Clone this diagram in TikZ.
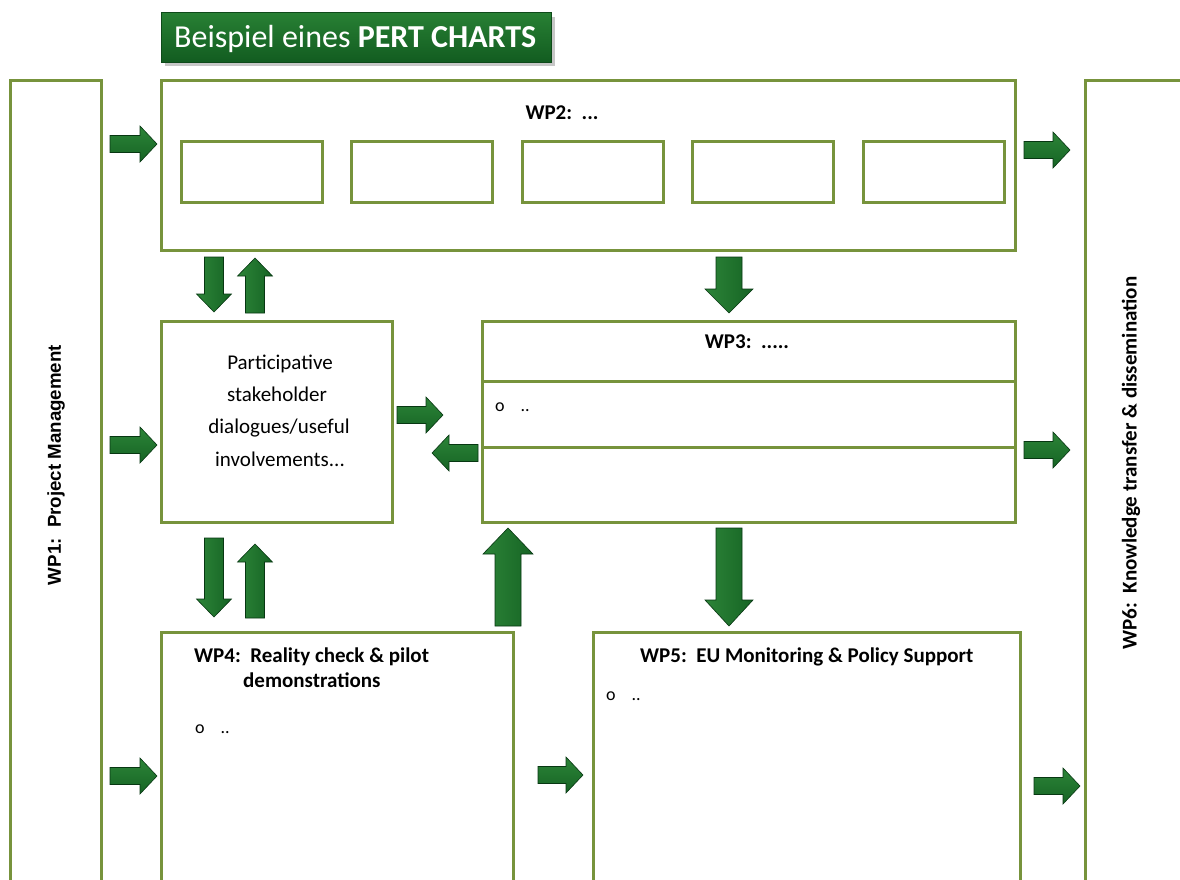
\documentclass[tikz,border=0pt]{standalone}
\usepackage{fontspec}
\setmainfont{Carlito}
\newfontfamily\arialf{Liberation Sans}
\definecolor{boxgreen}{RGB}{119,147,60}
\definecolor{arrlight}{RGB}{44,132,56}
\definecolor{arrmid}{RGB}{22,100,36}
\definecolor{arrdark}{RGB}{10,78,26}
\definecolor{titlelight}{RGB}{40,128,52}
\definecolor{titledark}{RGB}{18,92,32}
\tikzset{
  wpbox/.style={draw=boxgreen, line width=3pt, fill=white},
  hshade/.style={top color=arrlight, middle color=arrdark, bottom color=arrmid, draw=arrdark!70!black, line width=0.6pt},
  vshade/.style={left color=arrlight, middle color=arrdark, right color=arrmid, draw=arrdark!70!black, line width=0.6pt},
  pics/barrow/.style n args={5}{code={
    \path[#5] (0,-#2/2) -- (#1-#4,-#2/2) -- (#1-#4,-#3/2) -- (#1,0) -- (#1-#4,#3/2) -- (#1-#4,#2/2) -- (0,#2/2) -- cycle;
  }},
  bt/.style={font=\fontsize{21}{25}\selectfont\bfseries, inner sep=0pt},
  rt/.style={font=\fontsize{21}{25}\selectfont, inner sep=0pt},
}
\begin{document}
\begin{tikzpicture}[x=1pt,y=-1pt]
\clip (0,0) rectangle (1180,879);
\fill[white] (0,0) rectangle (1180,879);

% title
\fill[black!22] (165,17) rectangle (555,66);
\node[shading=axis, top color=titlelight, bottom color=titledark, draw=titledark!80!black, line width=0.8pt,
  minimum width=390pt, minimum height=50pt, anchor=north west, inner sep=0pt] (title) at (161,12) {};
\node[text=white, font=\fontsize{32}{36}\selectfont, anchor=base west, inner sep=0pt] (titletext) at (174,47)
  {Beispiel eines \textbf{PERT CHARTS}};

% side columns
\draw[wpbox] (10,80) rectangle (101,900);
\node[font=\arialf\fontsize{18.7}{22}\selectfont\bfseries, rotate=90, inner sep=0pt] (wp1) at (56,465) {WP1:\ \ Project Management};
\draw[wpbox] (1085,80) rectangle (1200,900);
\node[bt, rotate=90] (wp6) at (1131,463) {WP6:\ \ Knowledge transfer \& dissemination};

% WP2
\draw[wpbox] (161,80) rectangle (1015,250);
\node[bt, anchor=base] (wp2) at (562,119) {WP2:\ \ ...};
\foreach \x [count=\i] in {181,351,522,692,863}
  \draw[wpbox] (\x,141) rectangle ++(141,61);

% participative
\draw[wpbox] (161,321) rectangle (392,522);
\node[rt, anchor=base] (p1) at (280,369) {Participative};
\node[rt, anchor=base] (p2) at (277,401) {stakeholder};
\node[rt, anchor=base] (p3) at (279,433) {dialogues/useful};
\node[rt, anchor=base] (p4) at (280,466) {involvements...};

% WP3
\draw[wpbox] (482,321) rectangle (1015,522);
\draw[draw=boxgreen, line width=3pt] (482,381) -- (1015,381);
\draw[draw=boxgreen, line width=3pt] (482,447) -- (1015,447);
\node[bt, anchor=base] (wp3) at (747,348) {WP3:\ \ .....};
\node[rt, anchor=base west] (b3) at (495,411) {\fontsize{18}{20}\selectfont o\hspace{16pt}..};

% WP4
\draw[wpbox] (161,632) rectangle (513,900);
\node[bt, anchor=base west] (wp4a) at (194,662) {WP4:\ \ Reality check \& pilot};
\node[bt, anchor=base west] (wp4b) at (243,687) {demonstrations};
\node[rt, anchor=base west] (b4) at (195,733) {\fontsize{18}{20}\selectfont o\hspace{16pt}..};

% WP5
\draw[wpbox] (593,632) rectangle (1020,900);
\node[bt, anchor=base west] (wp5) at (640,662) {WP5:\ \ EU Monitoring \& Policy Support};
\node[rt, anchor=base west] (b5) at (606,700) {\fontsize{18}{20}\selectfont o\hspace{16pt}..};

% arrows: right-pointing at left column
\pic at (110,144) {barrow={47}{17}{36}{17}{hshade}};
\pic at (110,445) {barrow={47}{17}{36}{17}{hshade}};
\pic at (110,776) {barrow={47}{17}{36}{17}{hshade}};
% right column
\pic at (1024,150) {barrow={46}{17}{36}{17}{hshade}};
\pic at (1024,450) {barrow={46}{17}{36}{17}{hshade}};
\pic at (1034,786) {barrow={46}{17}{36}{17}{hshade}};
% between WP4 and WP5
\pic at (538,775) {barrow={45}{17}{36}{17}{hshade}};
% between participative and WP3
\pic at (397,415) {barrow={46}{17}{36}{17}{hshade}};
\pic[rotate=180] at (478,453) {barrow={46}{17}{36}{17}{hshade}};
% vertical small pairs
\pic[rotate=-90] at (214,257) {barrow={55}{19}{35}{18}{vshade}};
\pic[rotate=90] at (255,313) {barrow={55}{19}{35}{18}{vshade}};
\pic[rotate=-90] at (214,538) {barrow={79}{19}{35}{18}{vshade}};
\pic[rotate=90] at (255,618) {barrow={74}{19}{35}{18}{vshade}};
% big vertical
\pic[rotate=-90] at (729,257) {barrow={56}{26}{48}{24}{vshade}};
\pic[rotate=-90] at (729,528) {barrow={98}{26}{48}{26}{vshade}};
\pic[rotate=90] at (508,626) {barrow={98}{26}{50}{26}{vshade}};
\end{tikzpicture}
\end{document}
